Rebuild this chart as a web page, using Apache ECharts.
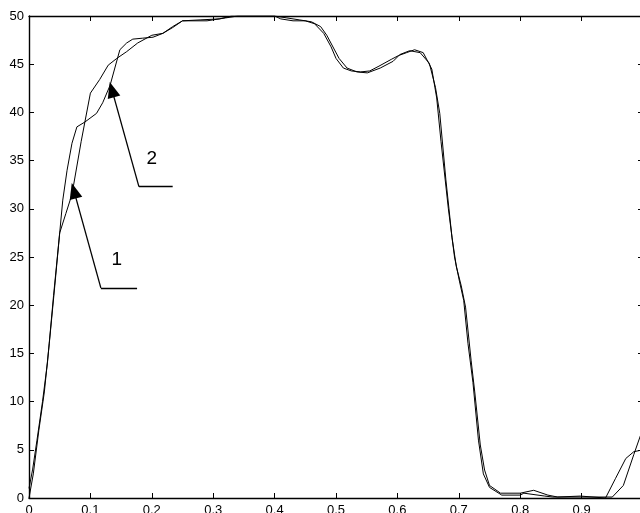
<!DOCTYPE html>
<html>
<head>
<meta charset="utf-8">
<script src="https://cdn.jsdelivr.net/npm/echarts@6/dist/echarts.min.js"></script>
<style>html,body{margin:0;padding:0;background:#fff;overflow:hidden;}#c{width:640px;height:513px;}</style>
</head>
<body>
<div id="c"></div>
<script>
// Curve 1 (arrow "1")
var x1 = [0,0.007,0.016,0.025,0.033,0.042,0.05,0.06,0.07,0.085,0.1,0.115,0.129,0.143,0.159,0.177,0.2,0.218,0.234,0.25,0.28,0.31,0.33,0.4,0.42,0.44,0.46,0.475,0.485,0.505,0.518,0.534,0.551,0.572,0.593,0.604,0.62,0.637,0.652,0.662,0.669,0.679,0.689,0.696,0.704,0.711,0.72,0.726,0.735,0.742,0.75,0.768,0.80,0.822,0.845,0.861,0.898,0.939,0.955,0.972,0.985,1.0];
var y1 = [0,2.5,7,11,16,22,27.5,29.5,31.5,37,42,43.4,44.9,45.6,46.3,47.2,48.0,48.2,48.9,49.5,49.6,49.7,50,50,49.8,49.6,49.4,48.9,48,45.6,44.6,44.2,44.1,44.6,45.3,46.0,46.4,46.2,45.1,42.6,39.9,33,27,24,22,19.8,14.3,11,5.5,2.9,1.3,0.5,0.5,0.8,0.3,0.1,0.2,0,2,4.1,4.8,5.0];
// Curve 2 (arrow "2")
var x2 = [0,0.006,0.013,0.022,0.03,0.04,0.05,0.055,0.062,0.07,0.078,0.091,0.11,0.12,0.132,0.148,0.159,0.169,0.185,0.202,0.218,0.234,0.25,0.29,0.32,0.34,0.40,0.41,0.43,0.45,0.465,0.48,0.492,0.5,0.512,0.525,0.54,0.555,0.57,0.59,0.602,0.615,0.628,0.642,0.656,0.664,0.671,0.683,0.693,0.701,0.708,0.715,0.723,0.732,0.74,0.75,0.77,0.8,0.806,0.84,0.853,0.9,0.95,0.968,0.985,0.996,1.0];
var y2 = [1,3,6,10,14,21,27.5,30.9,34,36.8,38.5,39.0,39.9,41.0,42.8,46.5,47.2,47.6,47.7,47.8,48.2,48.8,49.5,49.5,49.8,50,50,49.7,49.5,49.5,49.2,48.2,46.8,45.6,44.6,44.3,44.2,44.3,44.8,45.5,45.9,46.2,46.5,46.2,44.5,41.5,37,30,25,22.5,20.5,16,12,6,2.5,1.1,0.3,0.3,0.5,0.2,0.1,0.1,0.1,1.3,4.5,6.5,7.2];
// Axis ticks
var xTicks = {min: 0, max: 1, step: 0.1};
var yTicks = {min: 0, max: 50, step: 5};
// Annotations (data coords): end of horizontal, corner, arrow head centre, label position
var annLabels = ['1', '2'];
var annCorner = [[0.117, 21.8], [0.179, 32.3]];
var annEnd = [[0.176, 21.8], [0.234, 32.3]];
var annTip = [[0.0731, 31.88], [0.135, 42.36]];
var annLabelPos = [[0.143, 24.7], [0.2, 35.2]];

function pairs(xs, ys) { return xs.map(function (x, i) { return [x, ys[i]]; }); }

var FONT = '"Liberation Sans", Arial, sans-serif';
var axisCommon = {
  axisLine: {show: true, onZero: false, lineStyle: {color: '#000', width: 1.4}},
  axisTick: {show: true, inside: true, length: 5, lineStyle: {color: '#000', width: 1}},
  splitLine: {show: false}
};

var markLines = [];
for (var i = 0; i < annLabels.length; i++) {
  markLines.push([{coord: annEnd[i], symbol: 'none'}, {coord: annCorner[i], symbol: 'none'}]);
  markLines.push([{coord: annCorner[i], symbol: 'none'}, {coord: annTip[i], symbol: 'triangle', symbolSize: [13, 16]}]);
}
var markPoints = annLabels.map(function (t, i) {
  return {name: t, coord: annLabelPos[i]};
});

var chart = echarts.init(document.getElementById('c'), null, {renderer: 'canvas'});
chart.setOption({
  animation: false,
  backgroundColor: '#fff',
  grid: {left: 29, top: 16, width: 614, height: 482, containLabel: false, outerBoundsMode: 'none'},
  xAxis: [
    Object.assign({type: 'value', position: 'bottom', min: xTicks.min, max: xTicks.max, interval: xTicks.step,
      axisLabel: {show: true, showMaxLabel: false, color: '#000', fontSize: 13, fontFamily: FONT, margin: 6}}, axisCommon),
    Object.assign({type: 'value', position: 'top', min: xTicks.min, max: xTicks.max, interval: xTicks.step,
      axisLabel: {show: false}}, axisCommon)
  ],
  yAxis: [
    Object.assign({type: 'value', position: 'left', min: yTicks.min, max: yTicks.max, interval: yTicks.step,
      axisLabel: {show: true, color: '#000', fontSize: 13, fontFamily: FONT, margin: 5}}, axisCommon),
    Object.assign({type: 'value', position: 'right', min: yTicks.min, max: yTicks.max, interval: yTicks.step,
      axisLabel: {show: false}}, axisCommon)
  ],
  series: [
    {
      type: 'line', name: '1', xAxisIndex: 0, yAxisIndex: 0,
      data: pairs(x1, y1), showSymbol: false, symbol: 'none', smooth: false,
      lineStyle: {color: '#000', width: 1}, silent: true,
      markLine: {
        silent: true, symbol: ['none', 'none'], label: {show: false},
        lineStyle: {color: '#000', width: 1.3, type: 'solid'},
        itemStyle: {color: '#000'},
        emphasis: {disabled: true},
        data: markLines
      },
      markPoint: {
        silent: true, symbol: 'circle', symbolSize: 1, itemStyle: {color: 'rgba(0,0,0,0)'},
        label: {show: true, position: 'inside', formatter: '{b}', color: '#000', fontSize: 19, fontFamily: FONT},
        data: markPoints
      }
    },
    {
      type: 'line', name: '2', xAxisIndex: 0, yAxisIndex: 0,
      data: pairs(x2, y2), showSymbol: false, symbol: 'none', smooth: false,
      lineStyle: {color: '#000', width: 1}, silent: true
    }
  ]
});
</script>
</body>
</html>
